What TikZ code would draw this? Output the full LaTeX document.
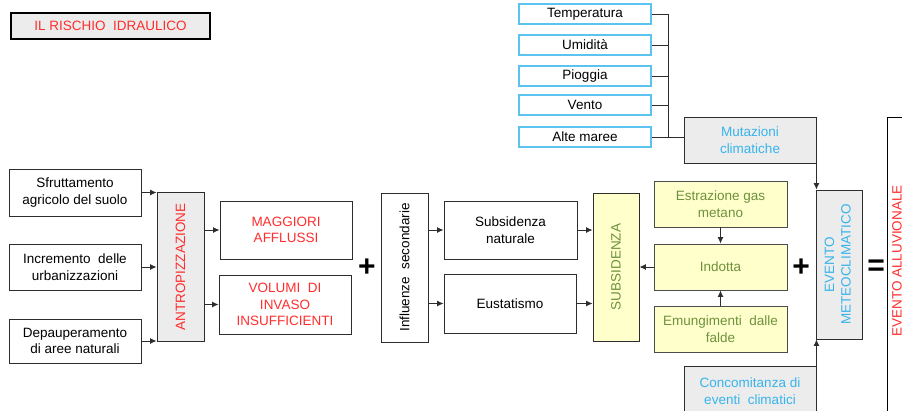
\documentclass[tikz,border=0pt]{standalone}
\usepackage{fontspec}
\setmainfont{Liberation Sans}
\usetikzlibrary{arrows.meta, positioning, calc}
\definecolor{rred}{RGB}{255,45,45}
\definecolor{cyantext}{RGB}{55,180,235}
\definecolor{cyanline}{RGB}{90,195,240}
\definecolor{greentext}{RGB}{110,145,60}
\definecolor{paleyellow}{RGB}{255,255,204}
\definecolor{palegray}{RGB}{236,236,236}
\definecolor{dark}{RGB}{45,45,45}
\tikzset{
    box/.style={rectangle, draw=dark, line width=0.9pt, fill=white, align=center, font=\fontsize{13.5}{16.5}\selectfont, inner sep=2pt, minimum width=132pt},
    graybox/.style={box, fill=palegray},
    yellowbox/.style={box, fill=paleyellow, text=greentext, draw=dark!85, minimum width=133pt, minimum height=46pt},
    listbox/.style={box, draw=cyanline, line width=1.2pt, minimum height=20pt},
    bar/.style={box, minimum width=47pt, minimum height=149pt},
    sign/.style={font=\fontsize{30}{30}\selectfont\bfseries, inner sep=0pt},
    arr/.style={-{Latex[length=6.5pt, width=6pt]}, line width=0.9pt, dark},
    conn/.style={line width=0.9pt, dark}
}

\begin{document}
\begin{tikzpicture}[x=1pt, y=-1pt]
    \useasboundingbox (0,0) rectangle (902,410);
    \clip (0,0) rectangle (902,410);
    \node[graybox, draw=black, line width=1.6pt, text=rred, minimum width=199pt, minimum height=26pt] (titolo) at (110.5,26) {IL RISCHIO\ \ IDRAULICO};

    % mutazioni climatiche
    \node[listbox] (temp) at (585,14) {Temperatura};
    \node[listbox] (umid) at (585,45) {Umidità};
    \node[listbox] (piog) at (585,76) {Pioggia};
    \node[listbox] (vento) at (585,105) {Vento};
    \node[listbox] (maree) at (585,137) {Alte maree};
    \coordinate (bus) at (668,14);
    \foreach \n in {temp,umid,piog,vento,maree}
        \draw[conn] (\n.east) -- (\n.east -| bus);
    \draw[conn] (bus) -- (maree.east -| bus);
    \node[graybox, text=cyantext, minimum height=46pt] (mutaz) at (750,140) {Mutazioni\\climatiche};
    \draw[conn] (maree.east -| bus) -- (maree.east -| mutaz.west);

    % antropizzazione
    \node[box, minimum height=47pt] (sfrut) at (75,192.5) {Sfruttamento\\agricolo del suolo};
    \node[box, minimum height=46pt] (increm) at (75,267) {Incremento\ \ delle\\urbanizzazioni};
    \node[box, minimum height=44pt] (depaup) at (75,341) {Depauperamento\\di aree naturali};
    \node[bar, fill=palegray, text=rred] (antrop) at (180.5,267) {\rotatebox{90}{ANTROPIZZAZIONE}};
    \foreach \n in {sfrut,increm,depaup}
        \draw[arr] (\n.east) -- (\n.east -| antrop.west);
    \node[box, text=rred, minimum height=58pt] (maggiori) at (286,230) {MAGGIORI\\AFFLUSSI};
    \node[box, text=rred, minimum height=59pt] (volumi) at (285,304.5) {VOLUMI\ \ DI\\INVASO\\INSUFFICIENTI};
    \draw[arr] (maggiori.west -| antrop.east) -- (maggiori.west);
    \draw[arr] (volumi.west -| antrop.east) -- (volumi.west);
    \node[sign] (piu1) at (367,268) {+};

    % subsidenza
    \node[bar] (influenze) at (404.5,267.5) {\rotatebox{90}{Influenze\ \ secondarie}};
    \node[box, minimum width=133pt, minimum height=58pt] (subnat) at (510.5,230) {Subsidenza\\naturale};
    \node[box, minimum height=59pt] (eustat) at (510,303.5) {Eustatismo};
    \draw[arr] (subnat.west -| influenze.east) -- (subnat.west);
    \draw[arr] (eustat.west -| influenze.east) -- (eustat.west);
    \node[bar, fill=paleyellow, text=greentext, minimum width=46pt, minimum height=148pt] (subsid) at (616,267) {\rotatebox{90}{SUBSIDENZA}};
    \draw[arr] (subnat.east) -- (subnat.east -| subsid.west);
    \draw[arr] (eustat.east) -- (eustat.east -| subsid.west);
    \node[yellowbox] (estraz) at (720.5,204) {Estrazione gas\\metano};
    \node[yellowbox] (indotta) at (720.5,267) {Indotta};
    \node[yellowbox] (emung) at (720.5,329) {Emungimenti\ \ dalle\\falde};
    \draw[arr] (estraz) -- (indotta);
    \draw[arr] (emung) -- (indotta);
    \draw[arr] (indotta) -- (subsid);
    \node[sign] (piu2) at (801,268) {+};

    % evento
    \node[bar, fill=palegray, text=cyantext, minimum width=46pt] (meteo) at (839,264.5) {\rotatebox{90}{\begin{tabular}{@{}c@{}}EVENTO\\METEOCLIMATICO\end{tabular}}};
    \draw[arr] (mutaz.south east) -- (mutaz.south east |- meteo.north);
    \node[graybox, text=cyantext, minimum height=50pt] (concom) at (750,391) {Concomitanza\ di\\eventi\ \ climatici};
    \draw[arr] (concom.north east) -- (concom.north east |- meteo.south);
    \node[sign] (uguale) at (876,268) {=};
    \node[box, draw=black, text=rred, minimum width=20pt, minimum height=300pt] (alluv) at (897,267) {\rotatebox{90}{\hspace{12pt}EVENTO ALLUVIONALE}};
\end{tikzpicture}
\end{document}
